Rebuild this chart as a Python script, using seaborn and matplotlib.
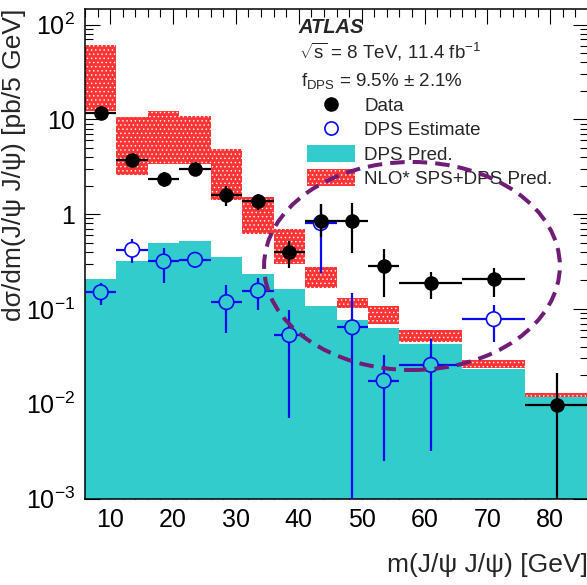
import numpy as np
import pandas as pd
import matplotlib
matplotlib.use("Agg")
import matplotlib.pyplot as plt
from matplotlib.patches import Ellipse, Patch
from matplotlib.lines import Line2D
from matplotlib.ticker import FixedLocator, FixedFormatter, LogLocator, NullFormatter, MultipleLocator
import seaborn as sns

# Binning of m(J/psi J/psi) [GeV]
bin_edges = [6, 11, 16, 21, 26, 31, 36, 41, 46, 51, 56, 66, 76, 86]
bin_centers = [8.5, 13.5, 18.5, 23.5, 28.5, 33.5, 38.5, 43.5, 48.5, 53.5, 61, 71, 81]

# Measured cross section (pb / 5 GeV) with lower / upper error bounds
data_val = [11.7, 3.69, 2.37, 3.01, 1.60, 1.38, 0.398, 0.85, 0.85, 0.281, 0.187, 0.206, 0.0096]
data_lo = [10.9, 3.14, 1.93, 2.56, 1.21, 1.11, 0.270, 0.573, 0.388, 0.133, 0.127, 0.135, 1e-6]
data_hi = [12.6, 4.14, 2.79, 3.40, 1.96, 1.63, 0.527, 1.28, 1.31, 0.428, 0.248, 0.270, 0.0213]

# DPS estimate from data
est_val = [0.150, 0.421, 0.317, 0.330, 0.118, 0.156, 0.053, 0.805, 0.064, 0.0175, 0.0257, 0.078, np.nan]
est_lo = [0.110, 0.305, 0.187, 0.270, 0.056, 0.098, 0.00703, 0.239, 1e-6, 0.00251, 0.0032, 0.0453, np.nan]
est_hi = [0.187, 0.546, 0.439, 0.388, 0.180, 0.211, 0.098, 1.29, 0.147, 0.0327, 0.048, 0.110, np.nan]

# DPS prediction
dps_pred = [0.206, 0.322, 0.491, 0.515, 0.352, 0.235, 0.163, 0.108, 0.0767, 0.0627, 0.0428, 0.0231, 0.0118]

# NLO* SPS+DPS prediction band
nlo_lo = [12.4, 2.56, 3.40, 3.40, 1.42, 0.616, 0.297, 0.166, 0.1035, 0.0696, 0.0453, 0.0237, 0.0119]
nlo_hi = [61.5, 10.6, 12.2, 10.9, 4.87, 1.50, 0.701, 0.280, 0.130, 0.108, 0.0602, 0.029, 0.0131]

y_ticks = [1e-3, 1e-2, 1e-1, 1, 10, 100]
y_tick_labels = ["$10^{-3}$", "$10^{-2}$", "$10^{-1}$", "1", "10", "$10^{2}$"]
x_ticks = [10, 20, 30, 40, 50, 60, 70, 80]

CYAN = "#33CCCC"
RED = "#FF3535"
BLUE = "#0A0AF0"
PURPLE = "#701D77"
BAND_HATCH = "...."

sns.set_style("ticks")
plt.rcParams["font.family"] = ["Liberation Sans", "DejaVu Sans"]
plt.rcParams["mathtext.fontset"] = "custom"
plt.rcParams["mathtext.rm"] = "Liberation Sans"
plt.rcParams["mathtext.it"] = "Liberation Sans:italic"
plt.rcParams["mathtext.bf"] = "Liberation Sans:bold"
plt.rcParams["mathtext.default"] = "regular"
plt.rcParams["hatch.color"] = "white"
plt.rcParams["hatch.linewidth"] = 0.5

df = pd.DataFrame({
    "m": bin_centers,
    "dps": dps_pred,
    "nlo_lo": nlo_lo,
    "nlo_hi": nlo_hi,
    "data": data_val,
    "data_lo": data_lo,
    "data_hi": data_hi,
    "est": est_val,
    "est_lo": est_lo,
    "est_hi": est_hi,
})
widths = np.diff(bin_edges)
df["halfw"] = widths / 2.0
est_df = df.dropna(subset=["est"]).copy()

W, H = 587, 585
fig = plt.figure(figsize=(W / 100, H / 100), dpi=100)
fig.patch.set_facecolor("white")
ax = fig.add_axes([85 / W, (H - 498.5) / H, (588 - 85) / W, (498.5 - 9) / H])
ax.set_yscale("log")
ax.set_axisbelow(True)

# DPS prediction histogram
sns.histplot(data=df, x="m", weights="dps", bins=bin_edges, element="step",
             fill=True, color=CYAN, alpha=1.0, linewidth=0, ax=ax, zorder=1)

# NLO* SPS+DPS uncertainty band
ax.bar(df["m"], df["nlo_hi"] - df["nlo_lo"], bottom=df["nlo_lo"], width=widths,
       color=RED, edgecolor="white", linewidth=0, hatch=BAND_HATCH, zorder=2)

# DPS estimate (open markers show what lies beneath them)
est_face = np.where(est_df["est"] > est_df["dps"], "white", CYAN)
ax.errorbar(est_df["m"], est_df["est"], xerr=est_df["halfw"],
            yerr=[est_df["est"] - est_df["est_lo"], est_df["est_hi"] - est_df["est"]],
            fmt="none", ecolor=BLUE, elinewidth=1.6, capsize=0, zorder=3)
ax.scatter(est_df["m"], est_df["est"], s=110, marker="o",
           facecolors=est_face, edgecolors=BLUE, linewidths=1.2, zorder=4)

# Data
ax.errorbar(df["m"], df["data"], xerr=df["halfw"],
            yerr=[df["data"] - df["data_lo"], df["data_hi"] - df["data"]],
            fmt="none", ecolor="black", elinewidth=1.6, capsize=0, zorder=5)
sns.scatterplot(data=df, x="m", y="data", ax=ax, s=110, marker="o",
                color="black", edgecolor="black", linewidth=0, zorder=6)

ax.set_xlim(6, 86)
ax.set_ylim(1e-3, 146)

ax.xaxis.set_major_locator(FixedLocator(x_ticks))
ax.xaxis.set_minor_locator(MultipleLocator(2))
ax.yaxis.set_major_locator(FixedLocator(y_ticks))
ax.yaxis.set_major_formatter(FixedFormatter(y_tick_labels))
ax.yaxis.set_minor_locator(LogLocator(base=10, subs=np.arange(2, 10)))
ax.yaxis.set_minor_formatter(NullFormatter())
ax.tick_params(which="both", direction="in", top=True, right=True, width=0.8,
               labelsize=18, colors="black")
ax.tick_params(which="major", length=10.5, pad=7)
ax.tick_params(which="minor", length=5.5)
for s in ax.spines.values():
    s.set_linewidth(1.1)
    s.set_color("black")

ax.set_xlabel("m(J/ψ J/ψ) [GeV]", fontsize=19, loc="right")
ax.set_ylabel("dσ/dm(J/ψ J/ψ) [pb/5 GeV]", fontsize=19, loc="top")
ax.xaxis.set_label_coords(1.0, -0.111)
ax.yaxis.set_label_coords(-0.118, 1.0)

# Annotations
ax.text(0.4235, 0.963, "ATLAS", transform=ax.transAxes, fontsize=14.5,
        fontweight="bold", fontstyle="italic", ha="left", va="center")
ax.text(0.4255, 0.912, r"$\sqrt{s}$ = 8 TeV, 11.4 fb$^{-1}$", transform=ax.transAxes,
        fontsize=13.5, ha="left", va="center")
ax.text(0.4300, 0.853, r"f$_{\rm DPS}$ = 9.5% $\pm$ 2.1%", transform=ax.transAxes,
        fontsize=13.5, ha="left", va="center")

handles = [
    Line2D([], [], ls="none", marker="o", ms=9.5, color="black"),
    Line2D([], [], ls="none", marker="o", ms=9.5, mfc="none", mec=BLUE, mew=1.2),
    Patch(facecolor=CYAN, edgecolor="none"),
    Patch(facecolor=RED, edgecolor="white", linewidth=0, hatch=BAND_HATCH),
]
labels = ["Data", "DPS Estimate", "DPS Pred.", "NLO* SPS+DPS Pred."]
ax.legend(handles, labels, loc="upper left", bbox_to_anchor=(0.441, 0.821),
          frameon=False, fontsize=13.5, handlelength=2.55, handleheight=1.0,
          handletextpad=0.5, labelspacing=0.28, borderpad=0, borderaxespad=0)

# Highlighted high-mass region
ax.add_patch(Ellipse((0.650, 0.475), 0.588, 0.425, transform=ax.transAxes,
                     fill=False, edgecolor=PURPLE, linewidth=2.9,
                     linestyle=(0, (3.6, 2.0)), zorder=10))

fig.savefig("out.png", dpi=100)
